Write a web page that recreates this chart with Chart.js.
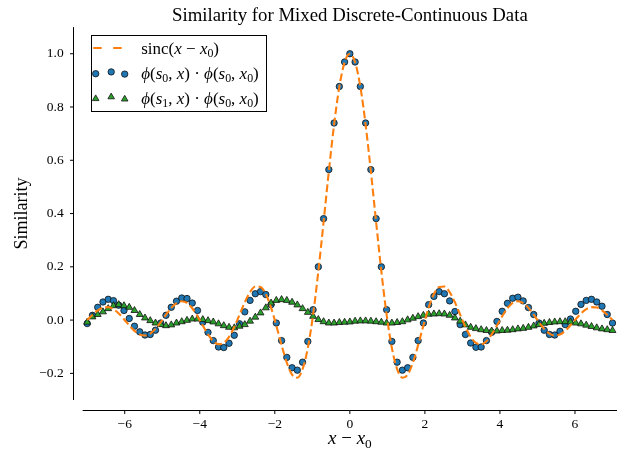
<!DOCTYPE html>
<html>
<head>
<meta charset="utf-8">
<script src="https://cdn.jsdelivr.net/npm/chart.js@4.4.1/dist/chart.umd.min.js"></script>
<style>
  html, body { margin: 0; padding: 0; background: #fff; }
</style>
</head>
<body>
<canvas id="simChart" width="625" height="451"></canvas>
<script>
// sample positions x - x0
const xValues = [
  -7.00, -6.86, -6.72, -6.58, -6.44, -6.30, -6.16, -6.02, -5.88, -5.74,
  -5.60, -5.46, -5.32, -5.18, -5.04, -4.90, -4.76, -4.62, -4.48, -4.34,
  -4.20, -4.06, -3.92, -3.78, -3.64, -3.50, -3.36, -3.22, -3.08, -2.94,
  -2.80, -2.66, -2.52, -2.38, -2.24, -2.10, -1.96, -1.82, -1.68, -1.54,
  -1.40, -1.26, -1.12, -0.98, -0.84, -0.70, -0.56, -0.42, -0.28, -0.14,
  0.00,
  0.14, 0.28, 0.42, 0.56, 0.70, 0.84, 0.98, 1.12, 1.26, 1.40,
  1.54, 1.68, 1.82, 1.96, 2.10, 2.24, 2.38, 2.52, 2.66, 2.80,
  2.94, 3.08, 3.22, 3.36, 3.50, 3.64, 3.78, 3.92, 4.06, 4.20,
  4.34, 4.48, 4.62, 4.76, 4.90, 5.04, 5.18, 5.32, 5.46, 5.60,
  5.74, 5.88, 6.02, 6.16, 6.30, 6.44, 6.58, 6.72, 6.86, 7.00
];

// dashed orange reference curve
const sincValues = [
  0.0000, 0.0198, 0.0365, 0.0469, 0.0486, 0.0409, 0.0249, 0.0033, -0.0199, -0.0404,
  -0.0541, -0.0578, -0.0505, -0.0329, -0.0079, 0.0201, 0.0458, 0.0641, 0.0709, 0.0643,
  0.0445, 0.0147, -0.0202, -0.0537, -0.0791, -0.0909, -0.0857, -0.0630, -0.0257, 0.0203,
  0.0668, 0.1049, 0.1261, 0.1244, 0.0973, 0.0468, -0.0204, -0.0937, -0.1600, -0.2051,
  -0.2162, -0.1842, -0.1046, 0.0204, 0.1826, 0.3679, 0.5583, 0.7341, 0.8759, 0.9681,
  1.0000,
  0.9681, 0.8759, 0.7341, 0.5583, 0.3679, 0.1826, 0.0204, -0.1046, -0.1842, -0.2162,
  -0.2051, -0.1600, -0.0937, -0.0204, 0.0468, 0.0973, 0.1244, 0.1261, 0.1049, 0.0668,
  0.0203, -0.0257, -0.0630, -0.0857, -0.0909, -0.0791, -0.0537, -0.0202, 0.0147, 0.0445,
  0.0643, 0.0709, 0.0641, 0.0458, 0.0201, -0.0079, -0.0329, -0.0505, -0.0578, -0.0541,
  -0.0404, -0.0199, 0.0033, 0.0249, 0.0409, 0.0486, 0.0469, 0.0365, 0.0198, 0.0000
];

// blue circles: phi(s0, x) . phi(s0, x0)
const phiS0Values = [
  -0.013, 0.018, 0.048, 0.068, 0.078, 0.073, 0.056, 0.036, 0.006, -0.023,
  -0.044, -0.056, -0.054, -0.038, -0.011, 0.018, 0.048, 0.071, 0.083, 0.081,
  0.064, 0.036, -0.008, -0.046, -0.077, -0.101, -0.103, -0.087, -0.057, -0.014,
  0.031, 0.074, 0.099, 0.107, 0.096, 0.058, -0.011, -0.077, -0.140, -0.179,
  -0.188, -0.158, -0.080, 0.039, 0.200, 0.381, 0.565, 0.740, 0.877, 0.969,
  1.000,
  0.969, 0.877, 0.740, 0.565, 0.381, 0.200, 0.039, -0.080, -0.158, -0.188,
  -0.179, -0.140, -0.077, -0.011, 0.058, 0.089, 0.107, 0.099, 0.072, 0.032,
  -0.017, -0.054, -0.086, -0.102, -0.101, -0.077, -0.046, -0.005, 0.033, 0.063,
  0.082, 0.086, 0.072, 0.047, 0.021, -0.011, -0.038, -0.054, -0.056, -0.042,
  -0.017, 0.004, 0.033, 0.059, 0.074, 0.078, 0.068, 0.052, 0.021, -0.011
];

// green triangles: phi(s1, x) . phi(s0, x0)
const phiS1Values = [
  -0.008, 0.012, 0.021, 0.031, 0.043, 0.054, 0.058, 0.054, 0.048, 0.036,
  0.021, 0.008, -0.002, -0.011, -0.017, -0.021, -0.018, -0.011, -0.006, -0.001,
  0.004, 0.004, 0.002, -0.002, -0.007, -0.014, -0.021, -0.027, -0.029, -0.023,
  -0.017, -0.004, 0.011, 0.027, 0.046, 0.064, 0.074, 0.077, 0.074, 0.067,
  0.057, 0.043, 0.029, 0.014, 0.002, -0.006, -0.011, -0.011, -0.009, -0.008,
  -0.007,
  -0.004, -0.003, -0.003, -0.004, -0.006, -0.008, -0.011, -0.011, -0.009, -0.006,
  0.001, 0.007, 0.013, 0.018, 0.022, 0.023, 0.024, 0.023, 0.018, 0.008,
  -0.004, -0.018, -0.027, -0.032, -0.036, -0.039, -0.041, -0.041, -0.039, -0.038,
  -0.036, -0.033, -0.031, -0.027, -0.022, -0.017, -0.012, -0.009, -0.007, -0.006,
  -0.006, -0.007, -0.011, -0.014, -0.019, -0.024, -0.029, -0.033, -0.036, -0.039
];

const xTicks = [-6, -4, -2, 0, 2, 4, 6];
const yTicks = [-0.2, 0.0, 0.2, 0.4, 0.6, 0.8, 1.0];

const titleText = 'Similarity for Mixed Discrete-Continuous Data';
const yTitle = 'Similarity';

const serif = '"Liberation Serif", "DejaVu Serif", serif';

// text runs for the math labels: r = upright, i = italic, s = subscript
const xTitleRuns = [['x', 'i'], [' \u2212 ', 'r'], ['x', 'i'], ['0', 's']];
const legendRuns = [
  [['sinc(', 'r'], ['x', 'i'], [' \u2212 ', 'r'], ['x', 'i'], ['0', 's'], [')', 'r']],
  [['\u03d5', 'i'], ['(', 'r'], ['s', 'i'], ['0', 's'], [', ', 'r'], ['x', 'i'], [') \u00b7 ', 'r'],
   ['\u03d5', 'i'], ['(', 'r'], ['s', 'i'], ['0', 's'], [', ', 'r'], ['x', 'i'], ['0', 's'], [')', 'r']],
  [['\u03d5', 'i'], ['(', 'r'], ['s', 'i'], ['1', 's'], [', ', 'r'], ['x', 'i'], [') \u00b7 ', 'r'],
   ['\u03d5', 'i'], ['(', 'r'], ['s', 'i'], ['0', 's'], [', ', 'r'], ['x', 'i'], ['0', 's'], [')', 'r']]
];

const orange = '#ff7f0e';
const blue = '#1f77b4';
const green = '#2ca02c';

function toPoints(ys) {
  return xValues.map((x, i) => ({ x: x, y: ys[i] }));
}

function fmtTick(v, digits) {
  return v.toFixed(digits).replace('-', '\u2212');
}

function runFont(kind, size) {
  const fs = kind === 's' ? size * 0.7 : size;
  return (kind === 'i' ? 'italic ' : '') + fs + 'px ' + serif;
}

function drawRuns(ctx, runs, x, y, size, align) {
  let total = 0;
  for (const [t, k] of runs) {
    ctx.font = runFont(k, size);
    total += ctx.measureText(t).width;
  }
  if (align === 'center') x -= total / 2;
  ctx.textAlign = 'left';
  ctx.textBaseline = 'alphabetic';
  for (const [t, k] of runs) {
    ctx.font = runFont(k, size);
    ctx.fillText(t, x, k === 's' ? y + size * 0.22 : y);
    x += ctx.measureText(t).width;
  }
}

function drawMarker(ctx, style, x, y, color) {
  ctx.save();
  ctx.fillStyle = color;
  ctx.strokeStyle = '#111';
  ctx.lineWidth = 0.8;
  ctx.beginPath();
  if (style === 'circle') {
    ctx.arc(x, y, 3.2, 0, Math.PI * 2);
  } else {
    const r = 3.8;
    ctx.moveTo(x, y - r);
    ctx.lineTo(x + r * 0.866, y + r * 0.5);
    ctx.lineTo(x - r * 0.866, y + r * 0.5);
    ctx.closePath();
  }
  ctx.fill();
  ctx.stroke();
  ctx.restore();
}

const decor = {
  id: 'decor',
  afterDraw(chart) {
    const ctx = chart.ctx;
    const area = chart.chartArea;
    const xs = chart.scales.x;
    const ys = chart.scales.y;
    ctx.save();

    // detached spines (offset 10px) with outward ticks
    ctx.strokeStyle = '#000';
    ctx.lineWidth = 1;
    const sx = Math.round(area.left - 10) + 0.5;
    const sy = Math.round(area.bottom + 10) + 0.5;
    ctx.beginPath();
    ctx.moveTo(sx, area.top);
    ctx.lineTo(sx, area.bottom);
    ctx.moveTo(area.left, sy);
    ctx.lineTo(area.right, sy);
    for (const t of ys.ticks) {
      const p = ys.getPixelForValue(t.value);
      ctx.moveTo(sx, p);
      ctx.lineTo(sx - 3.5, p);
    }
    for (const t of xs.ticks) {
      const p = xs.getPixelForValue(t.value);
      ctx.moveTo(p, sy);
      ctx.lineTo(p, sy + 3.5);
    }
    ctx.stroke();

    // title
    ctx.fillStyle = '#000';
    ctx.font = '18.8px ' + serif;
    ctx.textAlign = 'center';
    ctx.textBaseline = 'alphabetic';
    ctx.fillText(titleText, (area.left + area.right) / 2, 21);

    // y axis title
    ctx.save();
    ctx.translate(22, (area.top + area.bottom) / 2);
    ctx.rotate(-Math.PI / 2);
    ctx.font = '18px ' + serif;
    ctx.textAlign = 'center';
    ctx.textBaseline = 'middle';
    ctx.fillText(yTitle, 0, 0);
    ctx.restore();

    // x axis title
    drawRuns(ctx, xTitleRuns, (area.left + area.right) / 2, 444, 19, 'center');

    // legend
    const lx = area.left + 8.5;
    const ly = area.top + 8;
    ctx.fillStyle = '#fff';
    ctx.fillRect(lx, ly, 175, 76);
    ctx.strokeStyle = '#000';
    ctx.lineWidth = 1;
    ctx.strokeRect(Math.round(lx) + 0.5, Math.round(ly) + 0.5, 175, 76);

    const rows = [ly + 13, ly + 38, ly + 63];
    ctx.strokeStyle = orange;
    ctx.lineWidth = 2;
    ctx.beginPath();
    ctx.moveTo(lx + 2, rows[0]);
    ctx.lineTo(lx + 10.5, rows[0]);
    ctx.moveTo(lx + 22, rows[0]);
    ctx.lineTo(lx + 30.5, rows[0]);
    ctx.stroke();

    const offs = [0.6, -1.2, 1.0];
    const mx = [lx + 4.5, lx + 20, lx + 33.5];
    for (let k = 0; k < 3; k++) {
      drawMarker(ctx, 'circle', mx[k], rows[1] + offs[k], blue);
      drawMarker(ctx, 'triangle', mx[k], rows[2] + offs[k], green);
    }

    ctx.fillStyle = '#000';
    for (let r = 0; r < 3; r++) {
      drawRuns(ctx, legendRuns[r], lx + 50, rows[r] + 5.5, 17, 'left');
    }
    ctx.restore();
  }
};

const tickFont = { family: serif, size: 13.5 };

new Chart(document.getElementById('simChart'), {
  type: 'scatter',
  data: {
    datasets: [
      {
        label: 'sinc(x - x0)',
        data: toPoints(sincValues),
        showLine: true,
        borderColor: orange,
        borderWidth: 2.1,
        borderDash: [7.7, 3.5],
        pointRadius: 0,
        cubicInterpolationMode: 'monotone',
        order: 0
      },
      {
        label: 'phi(s1,x) phi(s0,x0)',
        data: toPoints(phiS1Values),
        pointStyle: 'triangle',
        pointRadius: 4,
        backgroundColor: green,
        borderColor: '#111',
        borderWidth: 0.8,
        order: 1
      },
      {
        label: 'phi(s0,x) phi(s0,x0)',
        data: toPoints(phiS0Values),
        pointStyle: 'circle',
        pointRadius: 3.2,
        backgroundColor: blue,
        borderColor: '#111',
        borderWidth: 0.8,
        order: 2
      }
    ]
  },
  options: {
    responsive: false,
    animation: false,
    devicePixelRatio: 1,
    layout: { padding: { top: 27, right: 8, left: 0, bottom: 0 } },
    plugins: {
      legend: { display: false },
      tooltip: { enabled: false },
      title: { display: false }
    },
    scales: {
      x: {
        type: 'linear',
        min: -7.12,
        max: 7.12,
        afterBuildTicks: (s) => { s.ticks = xTicks.map((v) => ({ value: v })); },
        afterFit: (s) => { s.height = 51; },
        grid: { display: false, drawTicks: false },
        border: { display: false },
        ticks: {
          padding: 16,
          color: '#000',
          font: tickFont,
          maxRotation: 0,
          callback: (v) => fmtTick(v, 0)
        }
      },
      y: {
        type: 'linear',
        min: -0.3,
        max: 1.1,
        afterBuildTicks: (s) => { s.ticks = yTicks.map((v) => ({ value: v })); },
        afterFit: (s) => { s.width = 82.7; },
        grid: { display: false, drawTicks: false },
        border: { display: false },
        ticks: {
          padding: 19,
          color: '#000',
          font: tickFont,
          callback: (v) => fmtTick(v, 1)
        }
      }
    }
  },
  plugins: [decor]
});
</script>
</body>
</html>
